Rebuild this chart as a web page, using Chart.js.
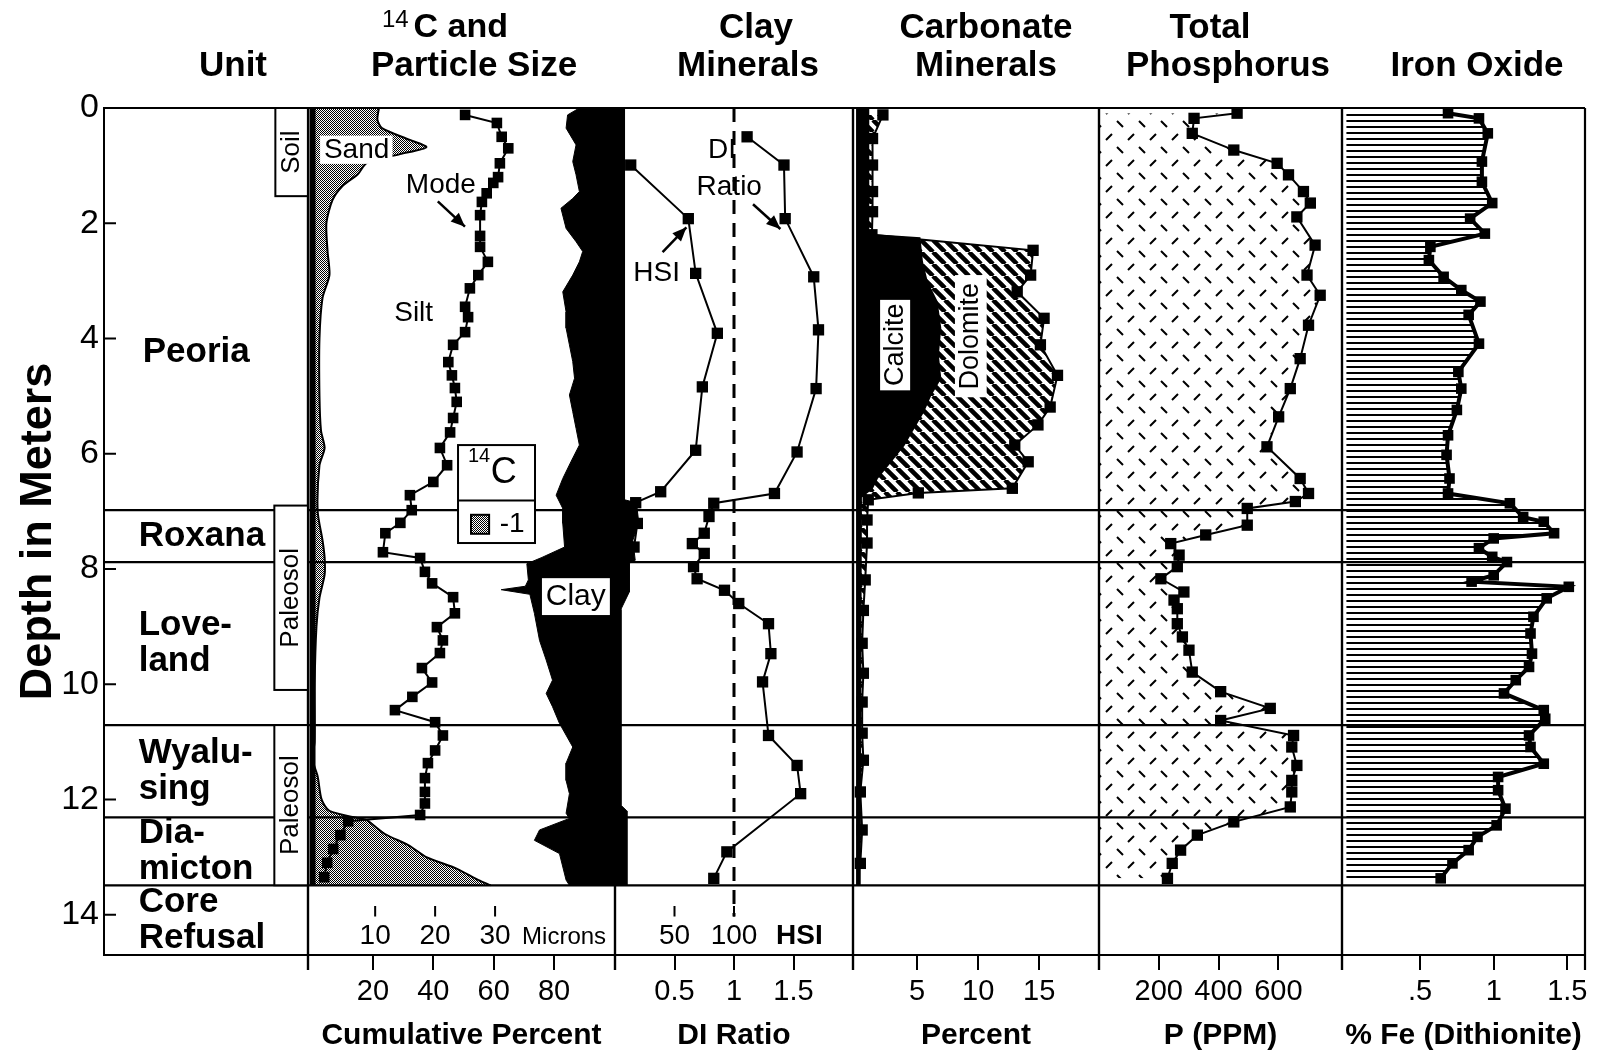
<!DOCTYPE html>
<html>
<head>
<meta charset="utf-8">
<title>Core profile</title>
<script src="https://cdn.jsdelivr.net/npm/chart.js@4.4.1/dist/chart.umd.min.js"></script>
<style>
  html, body { margin: 0; padding: 0; background: #fff; }
  #sheet { position: relative; width: 1599px; height: 1056px; overflow: hidden; background: #fff; }
  #sheet canvas { position: absolute; top: 0; }
</style>
</head>
<body>
<div id="sheet"></div>
<script>
const SANS = '"Liberation Sans", Arial, Helvetica, sans-serif';

// ---- depth (m) ----
const depthMax = 14.7;
const depthTicks = [0, 2, 4, 6, 8, 10, 12, 14];

// ---- units ----
const unitNames = [['Peoria'], ['Roxana'], ['Love-', 'land'], ['Wyalu-', 'sing'], ['Dia-', 'micton'], ['Core', 'Refusal']];
const unitBounds = [0, 6.98, 7.88, 10.71, 12.31, 13.49, 14.7];
const soilRange = [0, 1.53];
const paleosolRanges = [[6.9, 10.1], [10.71, 13.49]];

// ---- 14C and particle size ----
const cumTicks = [20, 40, 60, 80];
const micronTicks = [10, 20, 30];
const sandDepth = [0, 0.2, 0.35, 0.55, 0.68, 0.8, 0.95, 1.15, 1.35, 1.6, 2.0, 2.5, 2.9, 3.3, 4.0, 5.0, 5.6, 5.9, 6.2, 7.0, 7.5, 7.8, 8.1, 8.5, 9.0, 10.0, 11.0, 11.3, 11.6, 12.0, 12.2, 12.33, 12.36, 12.6, 12.8, 13.0, 13.2, 13.4, 13.49];
const sandPct   = [22, 21.5, 23, 32, 37.7, 29, 18, 15, 10, 6.6, 4.6, 5, 5.6, 3.3, 2.3, 2.3, 2.8, 4, 2.3, 1.7, 3.3, 4, 4, 2.3, 1.3, 0.7, 0.7, 0, 1.7, 3, 5.6, 15.6, 18, 24, 32, 37.7, 47.7, 55, 59];
const clayDepth = [0, 0.12, 0.35, 0.64, 0.93, 1.16, 1.45, 1.57, 1.74, 2.09, 2.32, 2.49, 2.67, 2.9, 3.19, 3.54, 3.82, 4.11, 4.4, 4.69, 4.98, 5.27, 5.56, 5.85, 6.14, 6.43, 6.72, 6.95, 7.21, 7.62, 7.8, 7.91, 8.19, 8.3, 8.36, 8.44, 8.77, 9.24, 9.58, 9.93, 10.16, 10.39, 10.68, 11.09, 11.37, 11.67, 11.9, 12.24, 12.33, 12.53, 12.71, 12.94, 13.4, 13.49];
const clayPct   = [88.4, 84.5, 84, 87.3, 86.2, 87.3, 88.4, 86.2, 82.3, 84, 87.3, 89.5, 88.4, 86.2, 82.9, 84, 84, 85.1, 86.2, 86.8, 85.1, 86.2, 87.3, 88.4, 85.6, 82.9, 80.7, 82.9, 82.9, 83.5, 76, 71, 71.5, 70.5, 62.5, 72, 73.5, 75.2, 77.4, 79.5, 77.4, 79.5, 81.8, 86.2, 84, 84, 85.1, 84, 85.1, 75.2, 73.5, 81.8, 84, 85.1];
const modeDepth   = [0.12, 0.26, 0.5, 0.7, 0.96, 1.2, 1.3, 1.48, 1.63, 1.86, 2.22, 2.41, 2.67, 2.9, 3.13, 3.45, 3.63, 3.89, 4.11, 4.41, 4.64, 4.86, 5.1, 5.38, 5.63, 5.9, 6.2, 6.49, 6.72, 6.98, 7.2, 7.38, 7.71, 7.81, 8.05, 8.25, 8.49, 8.77, 9.01, 9.24, 9.46, 9.72, 9.97, 10.22, 10.45, 10.66, 10.89, 11.15, 11.37, 11.63, 11.87, 12.07, 12.27, 12.38, 12.62, 12.86, 13.1, 13.35];
const modeMicrons = [25.0, 30.3, 31.1, 32.2, 30.8, 30.5, 29.7, 28.6, 27.8, 27.5, 27.5, 27.5, 28.8, 27.2, 25.8, 25.0, 25.5, 25.0, 23.0, 22.2, 22.8, 23.3, 23.6, 23.0, 22.5, 20.8, 22.0, 19.7, 15.8, 16.1, 14.2, 11.7, 11.3, 17.5, 18.3, 19.5, 23.0, 23.3, 20.3, 21.3, 20.8, 17.8, 19.5, 16.2, 13.3, 20.0, 21.3, 20.0, 18.8, 18.3, 18.3, 18.3, 17.5, 5.5, 4.2, 3.0, 2.0, 1.5];

// ---- clay minerals ----
const diTicks = [0.5, 1, 1.5];
const hsiTicks = [50, 100];
const hsiDepth = [0.99, 1.92, 2.87, 3.91, 4.84, 5.94, 6.66, 6.85, 7.21, 7.62];
const hsiValue = [13.2, 61.6, 67.8, 86.0, 73.4, 67.8, 38.4, 17.4, 18.8, 16.0];
const diDepth = [0.5, 0.99, 1.92, 2.93, 3.85, 4.87, 5.97, 6.69, 6.86, 7.09, 7.38, 7.56, 7.73, 7.96, 8.17, 8.37, 8.6, 8.95, 9.47, 9.96, 10.89, 11.41, 11.9, 12.91, 13.37];
const diValue = [1.11, 1.42, 1.43, 1.67, 1.71, 1.69, 1.53, 1.34, 0.83, 0.79, 0.75, 0.65, 0.75, 0.66, 0.69, 0.92, 1.04, 1.29, 1.31, 1.24, 1.29, 1.53, 1.56, 0.94, 0.83];
const stripDepth = [0, 6.8, 6.85, 7.2, 7.5, 7.85, 7.9, 8.4, 8.7, 12.1, 12.2, 13.49];
const stripValue = [0.08, 0.08, 0.18, 0.2, 0.15, 0.17, 0.12, 0.12, 0.05, 0.05, 0.1, 0.1];
const diReference = 1;

// ---- carbonate minerals ----
const carbTicks = [5, 10, 15];
const calciteDepth = [0, 2.2, 2.26, 2.67, 3.02, 3.36, 3.82, 4.29, 4.69, 4.98, 5.27, 5.56, 5.85, 6.14, 6.43, 6.6, 6.75, 13.49];
const calcitePct   = [1.0, 1.0, 5.2, 5.4, 5.8, 6.6, 6.9, 6.7, 6.9, 6.1, 5.5, 4.7, 3.9, 2.8, 1.7, 1.3, 0.4, 0.3];
const carbDepth = [0.12, 0.53, 0.99, 1.45, 1.8, 2.2, 2.47, 2.9, 3.19, 3.65, 4.11, 4.64, 5.19, 5.5, 5.85, 6.14, 6.6, 6.68, 6.8, 7.15, 7.55, 8.19, 8.72, 9.29, 9.81, 10.31, 10.85, 11.32, 11.87, 12.53, 13.11];
const carbPct   = [2.2, 1.35, 1.35, 1.35, 1.35, 1.3, 14.5, 14.3, 13.2, 15.4, 15.1, 16.5, 15.9, 14.9, 13.0, 14.1, 12.8, 5.1, 1.0, 0.9, 0.9, 0.75, 0.6, 0.5, 0.6, 0.5, 0.5, 0.6, 0.35, 0.5, 0.35];

// ---- total phosphorus ----
const phosTicks = [200, 400, 600];
const phosDepth = [0.09, 0.18, 0.44, 0.73, 0.96, 1.16, 1.45, 1.65, 1.89, 2.38, 2.9, 3.25, 3.77, 4.35, 4.87, 5.36, 5.88, 6.43, 6.69, 6.83, 6.95, 7.24, 7.41, 7.56, 7.76, 7.96, 8.17, 8.4, 8.54, 8.69, 8.95, 9.18, 9.41, 9.79, 10.13, 10.42, 10.63, 10.89, 11.09, 11.41, 11.67, 11.87, 12.13, 12.39, 12.62, 12.88, 13.11, 13.37];
const phosPpm   = [462, 318, 312, 451, 596, 634, 684, 707, 662, 723, 696, 740, 701, 673, 640, 601, 562, 673, 701, 657, 496, 496, 357, 240, 268, 262, 207, 284, 251, 262, 262, 279, 301, 312, 407, 573, 407, 651, 645, 662, 645, 645, 640, 451, 329, 273, 245, 229];

// ---- iron oxide ----
const ironTicks = [0.5, 1, 1.5];
const ironTickLabels = ['.5', '1', '1.5'];
const ironDepth = [0.09, 0.18, 0.44, 0.93, 1.28, 1.65, 1.92, 2.18, 2.41, 2.64, 2.93, 3.16, 3.36, 3.59, 4.09, 4.58, 4.87, 5.24, 5.68, 6.02, 6.43, 6.69, 6.86, 7.1, 7.18, 7.38, 7.47, 7.64, 7.79, 7.88, 8.11, 8.22, 8.31, 8.51, 8.83, 9.12, 9.47, 9.7, 9.93, 10.16, 10.45, 10.6, 10.89, 11.09, 11.38, 11.61, 11.84, 12.16, 12.45, 12.65, 12.88, 13.11, 13.37];
const ironFe    = [0.69, 0.90, 0.96, 0.92, 0.92, 0.99, 0.84, 0.94, 0.57, 0.56, 0.66, 0.78, 0.91, 0.83, 0.90, 0.76, 0.78, 0.75, 0.69, 0.68, 0.70, 0.69, 1.11, 1.20, 1.34, 1.41, 1.00, 0.90, 0.99, 1.09, 1.00, 0.85, 1.51, 1.36, 1.27, 1.25, 1.26, 1.24, 1.15, 1.07, 1.34, 1.35, 1.24, 1.25, 1.34, 1.03, 1.03, 1.08, 1.02, 0.89, 0.83, 0.72, 0.64];

// ------------------------------------------------------------
const PAD = 40, TOP = 108, AXIS_H = 101, H = 1056;
Chart.defaults.color = '#000';

function pts(depths, vals) { return depths.map((d, i) => ({ x: vals[i], y: d })); }
function fixedTicks(list) { return s => { s.ticks = list.map(v => ({ value: v })); }; }

function pattern(w, h, draw) {
  const c = document.createElement('canvas');
  c.width = w; c.height = h;
  const g = c.getContext('2d');
  draw(g);
  return g.createPattern(c, 'repeat');
}
const sandFill = pattern(4, 4, g => {
  g.fillStyle = '#000';
  for (let y = 0; y < 4; y++) for (let x = 0; x < 4; x++) if ((x + y) % 2 === 0) g.fillRect(x, y, 1, 1);
});
const dolomiteFill = pattern(12, 12, g => {
  g.strokeStyle = '#000'; g.lineWidth = 4.5; g.beginPath();
  for (const k of [-12, 0, 12]) { g.moveTo(k, 0); g.lineTo(k + 12, 12); }
  g.stroke();
});
const phosFill = pattern(22, 26, g => {
  g.strokeStyle = '#000'; g.lineWidth = 2; g.beginPath();
  g.moveTo(3, 10); g.lineTo(9, 4);
  g.moveTo(14, 17); g.lineTo(20, 23);
  g.stroke();
});
const ironFill = pattern(6, 6, g => { g.fillStyle = '#000'; g.fillRect(0, 0, 6, 2); });

function txt(ctx, s, x, y, font, align) {
  ctx.font = font; ctx.textAlign = align || 'center'; ctx.textBaseline = 'middle';
  ctx.fillStyle = '#000'; ctx.fillText(s, x, y);
}
function vtxt(ctx, s, x, y, font) {
  ctx.save(); ctx.translate(x, y); ctx.rotate(-Math.PI / 2); txt(ctx, s, 0, 0, font); ctx.restore();
}
function box(ctx, x1, y1, x2, y2, stroke) {
  ctx.fillStyle = '#fff'; ctx.fillRect(x1, y1, x2 - x1, y2 - y1);
  if (stroke) { ctx.strokeStyle = '#000'; ctx.lineWidth = 2; ctx.strokeRect(x1, y1, x2 - x1, y2 - y1); }
}
function arrow(ctx, x1, y1, x2, y2) {
  ctx.strokeStyle = '#000'; ctx.fillStyle = '#000'; ctx.lineWidth = 2.5;
  ctx.beginPath(); ctx.moveTo(x1, y1); ctx.lineTo(x2, y2); ctx.stroke();
  const a = Math.atan2(y2 - y1, x2 - x1), L = 14, W = 6;
  ctx.beginPath(); ctx.moveTo(x2, y2);
  ctx.lineTo(x2 - L * Math.cos(a) + W * Math.sin(a), y2 - L * Math.sin(a) - W * Math.cos(a));
  ctx.lineTo(x2 - L * Math.cos(a) - W * Math.sin(a), y2 - L * Math.sin(a) + W * Math.cos(a));
  ctx.closePath(); ctx.fill();
}
function innerTicks(ctx, scale, Y, values, labels, font) {
  ctx.strokeStyle = '#000'; ctx.lineWidth = 2; ctx.beginPath();
  values.forEach(v => { const x = scale.getPixelForValue(v); ctx.moveTo(x, Y(13.85)); ctx.lineTo(x, Y(14.03)); });
  ctx.stroke();
  values.forEach((v, i) => txt(ctx, labels[i], scale.getPixelForValue(v), Y(14.38), font));
}

function bottomAxis(min, max, ticks, title, labels) {
  const show = ticks.length > 0;
  return {
    type: 'linear', position: 'bottom', min, max,
    afterFit: s => { s.height = AXIS_H; },
    afterBuildTicks: fixedTicks(ticks),
    grid: { drawOnChartArea: false, drawTicks: show, tickLength: 15, color: '#000', lineWidth: 2 },
    border: { display: true, color: '#000', width: 2 },
    ticks: { display: show, color: '#000', font: { family: SANS, size: 29 }, padding: 5, maxRotation: 0, autoSkip: false,
             callback: (v, i) => labels ? labels[i] : String(v) },
    title: { display: !!title, text: title || '', color: '#000', font: { family: SANS, size: 30, weight: 'bold' }, padding: { top: 0, bottom: 2 } }
  };
}
function hiddenAxis(min, max) { return { type: 'linear', axis: 'x', display: false, min, max }; }

function makePanel(p) {
  const canvasLeft = p.first ? 0 : p.left - PAD;
  const width = p.right + PAD - canvasLeft;
  const canvas = document.createElement('canvas');
  canvas.width = width; canvas.height = H;
  canvas.style.left = canvasLeft + 'px';
  canvas.style.width = width + 'px'; canvas.style.height = H + 'px';
  document.getElementById('sheet').appendChild(canvas);

  const yAxis = p.first ? {
    type: 'linear', reverse: true, min: 0, max: depthMax, position: 'left',
    afterFit: s => { s.width = p.left; },
    afterBuildTicks: fixedTicks(depthTicks),
    grid: { drawOnChartArea: false, drawTicks: false },
    border: { display: true, color: '#000', width: 2 },
    ticks: { color: '#000', font: { family: SANS, size: 34 }, padding: 5 },
    title: { display: true, text: 'Depth in Meters', color: '#000', font: { family: SANS, size: 45, weight: 'bold' }, padding: { top: 12, bottom: 0 } }
  } : { type: 'linear', reverse: true, min: 0, max: depthMax, display: false };

  const frame = {
    id: 'frame',
    afterDatasetsDraw(chart) {
      const ctx = chart.ctx, a = chart.chartArea, Y = d => chart.scales.y.getPixelForValue(d);
      ctx.save();
      ctx.strokeStyle = '#000'; ctx.lineWidth = 2.2;
      ctx.beginPath();
      unitBounds.slice(1, -1).forEach(d => { ctx.moveTo(a.left, Y(d)); ctx.lineTo(a.right, Y(d)); });
      ctx.moveTo(a.left, a.top); ctx.lineTo(a.right, a.top);
      ctx.moveTo(a.right, a.top); ctx.lineTo(a.right, a.bottom + 15);
      if (!p.first) { ctx.moveTo(a.left, a.top); ctx.lineTo(a.left, a.bottom + 15); }
      ctx.stroke();
      if (p.annotate) p.annotate(chart, ctx, Y);
      ctx.restore();
    },
    afterDraw(chart) {
      const ctx = chart.ctx;
      ctx.save();
      (p.titles || []).forEach(t => {
        if (t.sup) {
          ctx.font = `bold 34px ${SANS}`;
          const wMain = ctx.measureText(t.text).width;
          ctx.font = `24px ${SANS}`;
          const wSup = ctx.measureText(t.sup).width;
          const x0 = t.x - canvasLeft - (wMain + wSup + 5) / 2;
          txt(ctx, t.sup, x0, t.y - 8, `24px ${SANS}`, 'left');
          txt(ctx, t.text, x0 + wSup + 5, t.y, `bold 34px ${SANS}`, 'left');
        } else {
          txt(ctx, t.text, t.x - canvasLeft, t.y, `bold 35px ${SANS}`);
        }
      });
      ctx.restore();
    }
  };

  const scales = Object.assign({ y: yAxis, x: p.xAxis }, p.extraScales || {});
  return new Chart(canvas, {
    type: 'line',
    data: { datasets: p.datasets },
    options: {
      responsive: false, animation: false, devicePixelRatio: 1, indexAxis: 'y',
      layout: { padding: { left: p.first ? 0 : PAD, right: PAD, top: TOP, bottom: 0 } },
      plugins: { legend: { display: false }, tooltip: { enabled: false } },
      elements: { line: { tension: 0 } },
      scales
    },
    plugins: [frame]
  });
}

const squares = { pointStyle: 'rect', pointRadius: 8, pointBackgroundColor: '#000', pointBorderWidth: 0, pointHoverRadius: 8 };

// ---- Unit column ----
makePanel({
  first: true, left: 104, right: 308,
  titles: [{ text: 'Unit', x: 233, y: 66 }],
  xAxis: bottomAxis(0, 1, [], null),
  datasets: [],
  annotate(chart, ctx, Y) {
    const X = v => chart.scales.x.getPixelForValue(v);
    const a = chart.chartArea;
    ctx.strokeStyle = '#000'; ctx.lineWidth = 2; ctx.beginPath();
    depthTicks.slice(1).forEach(d => { ctx.moveTo(a.left, Y(d)); ctx.lineTo(a.left + 12, Y(d)); });
    ctx.stroke();
    unitNames.forEach((lines, i) => {
      const mid = i === 0 ? 4.24 : (unitBounds[i] + unitBounds[i + 1]) / 2;
      lines.forEach((s, j) => txt(ctx, s, X(i === 0 ? 0.19 : 0.17), Y(mid + (j - (lines.length - 1) / 2) * 0.62), `bold 35px ${SANS}`, 'left'));
    });
    box(ctx, X(0.84), Y(soilRange[0]), X(1), Y(soilRange[1]), true);
    vtxt(ctx, 'Soil', X(0.92), Y((soilRange[0] + soilRange[1]) / 2), `26px ${SANS}`);
    paleosolRanges.forEach(r => {
      box(ctx, X(0.835), Y(r[0]), X(1), Y(r[1]), true);
      vtxt(ctx, 'Paleosol', X(0.918), Y((r[0] + r[1]) / 2), `26px ${SANS}`);
    });
  }
});

// ---- 14C and particle size ----
makePanel({
  left: 308, right: 615,
  titles: [{ text: 'C and', sup: '14', x: 445, y: 28 }, { text: 'Particle Size', x: 474, y: 66 }],
  xAxis: bottomAxis(-1.5, 100.2, cumTicks, 'Cumulative Percent'),
  extraScales: { xm: hiddenAxis(-1.2, 50) },
  datasets: [
    Object.assign({ data: pts(modeDepth, modeMicrons), xAxisID: 'xm', borderColor: '#000', borderWidth: 2, fill: false }, squares, { pointRadius: 7.5 }),
    { data: pts([unitBounds[0], unitBounds[5]], [0, 0]), borderColor: '#000', borderWidth: 6, pointRadius: 0, fill: false },
    { data: pts(clayDepth, clayPct), borderColor: '#000', borderWidth: 1, pointRadius: 0, fill: { value: 100.2 }, backgroundColor: '#000' },
    { data: pts(sandDepth, sandPct), borderColor: '#000', borderWidth: 2, pointRadius: 0, tension: 0.25, fill: { value: 0 }, backgroundColor: sandFill }
  ],
  annotate(chart, ctx, Y) {
    const X = v => chart.scales.x.getPixelForValue(v);
    box(ctx, X(2.5), Y(0.48), X(26.5), Y(0.97), false);
    txt(ctx, 'Sand', X(14.6), Y(0.73), `28px ${SANS}`);
    txt(ctx, 'Mode', X(42.5), Y(1.34), `28px ${SANS}`);
    arrow(ctx, X(41.5), Y(1.62), X(50.5), Y(2.06));
    txt(ctx, 'Silt', X(33.5), Y(3.56), `28px ${SANS}`);
    box(ctx, X(76), Y(8.16), X(98.5), Y(8.8), false);
    txt(ctx, 'Clay', X(87.2), Y(8.48), `30px ${SANS}`);
    // 14C legend box
    box(ctx, X(48.2), Y(5.85), X(73.7), Y(7.55), true);
    ctx.beginPath(); ctx.moveTo(X(48.2), Y(6.81)); ctx.lineTo(X(73.7), Y(6.81)); ctx.stroke();
    txt(ctx, '14', X(51.5), Y(6.05), `20px ${SANS}`, 'left');
    txt(ctx, 'C', X(59), Y(6.33), `36px ${SANS}`, 'left');
    const sq = [X(52.5), Y(7.06), X(58.5), Y(7.39)];
    ctx.fillStyle = sandFill; ctx.fillRect(sq[0], sq[1], sq[2] - sq[0], sq[3] - sq[1]);
    ctx.strokeStyle = '#000'; ctx.lineWidth = 2; ctx.strokeRect(sq[0], sq[1], sq[2] - sq[0], sq[3] - sq[1]);
    txt(ctx, '-1', X(62), Y(7.22), `28px ${SANS}`, 'left');
    // micron scale for the mode
    const xm = chart.scales.xm;
    innerTicks(ctx, xm, Y, micronTicks, micronTicks.map(String), `28px ${SANS}`);
    txt(ctx, 'Microns', xm.getPixelForValue(34.5), Y(14.4), `24px ${SANS}`, 'left');
  }
});

// ---- clay minerals ----
makePanel({
  left: 615, right: 853,
  titles: [{ text: 'Clay', x: 756, y: 28 }, { text: 'Minerals', x: 748, y: 66 }],
  xAxis: bottomAxis(0, 2, diTicks, 'DI Ratio'),
  extraScales: { xh: hiddenAxis(0, 200) },
  datasets: [
    Object.assign({ data: pts(diDepth, diValue), borderColor: '#000', borderWidth: 2, fill: false }, squares),
    Object.assign({ data: pts(hsiDepth, hsiValue), xAxisID: 'xh', borderColor: '#000', borderWidth: 2, fill: false }, squares),
    { data: pts([0, 14.03], [diReference, diReference]), borderColor: '#000', borderWidth: 3, borderDash: [14, 9], pointRadius: 0, fill: false },
    { data: pts(stripDepth, stripValue), borderColor: '#000', borderWidth: 1, pointRadius: 0, fill: { value: 0 }, backgroundColor: '#000' }
  ],
  annotate(chart, ctx, Y) {
    const X = v => chart.scales.x.getPixelForValue(v);
    txt(ctx, 'DI', X(0.9), Y(0.74), `28px ${SANS}`);
    txt(ctx, 'Ratio', X(0.96), Y(1.37), `28px ${SANS}`);
    arrow(ctx, X(1.16), Y(1.67), X(1.39), Y(2.1));
    txt(ctx, 'HSI', X(0.35), Y(2.86), `28px ${SANS}`);
    arrow(ctx, X(0.4), Y(2.5), X(0.6), Y(2.07));
    const xh = chart.scales.xh;
    innerTicks(ctx, xh, Y, hsiTicks, hsiTicks.map(String), `28px ${SANS}`);
    txt(ctx, 'HSI', xh.getPixelForValue(155), Y(14.38), `bold 28px ${SANS}`);
  }
});

// ---- carbonate minerals ----
makePanel({
  left: 853, right: 1099,
  titles: [{ text: 'Carbonate', x: 986, y: 28 }, { text: 'Minerals', x: 986, y: 66 }],
  xAxis: bottomAxis(-0.25, 19.9, carbTicks, 'Percent'),
  datasets: [
    { data: pts(calciteDepth, calcitePct), order: 1, borderColor: '#000', borderWidth: 2, pointRadius: 0, fill: { value: 0 }, backgroundColor: '#000' },
    Object.assign({ data: pts(carbDepth, carbPct), order: 0, borderColor: '#000', borderWidth: 2, fill: '-1', backgroundColor: dolomiteFill }, squares)
  ],
  annotate(chart, ctx, Y) {
    const X = v => chart.scales.x.getPixelForValue(v);
    box(ctx, X(1.97), Y(3.33), X(4.43), Y(4.9), false);
    vtxt(ctx, 'Calcite', X(3.2), Y(4.11), `27px ${SANS}`);
    box(ctx, X(8.1), Y(2.9), X(10.7), Y(5.02), false);
    vtxt(ctx, 'Dolomite', X(9.4), Y(3.96), `27px ${SANS}`);
  }
});

// ---- total phosphorus ----
makePanel({
  left: 1099, right: 1342,
  titles: [{ text: 'Total', x: 1210, y: 28 }, { text: 'Phosphorus', x: 1228, y: 66 }],
  xAxis: bottomAxis(0, 813, phosTicks, 'P (PPM)'),
  datasets: [
    Object.assign({ data: pts(phosDepth, phosPpm), borderColor: '#000', borderWidth: 2, fill: { value: 0 }, backgroundColor: phosFill }, squares)
  ]
});

// ---- iron oxide ----
makePanel({
  left: 1342, right: 1585,
  titles: [{ text: 'Iron Oxide', x: 1477, y: 66 }],
  xAxis: bottomAxis(-0.03, 1.62, ironTicks, '% Fe (Dithionite)', ironTickLabels),
  datasets: [
    Object.assign({ data: pts(ironDepth, ironFe), borderColor: '#000', borderWidth: 4, fill: { value: 0 }, backgroundColor: ironFill }, squares, { pointRadius: 7.5 })
  ]
});
</script>
</body>
</html>
